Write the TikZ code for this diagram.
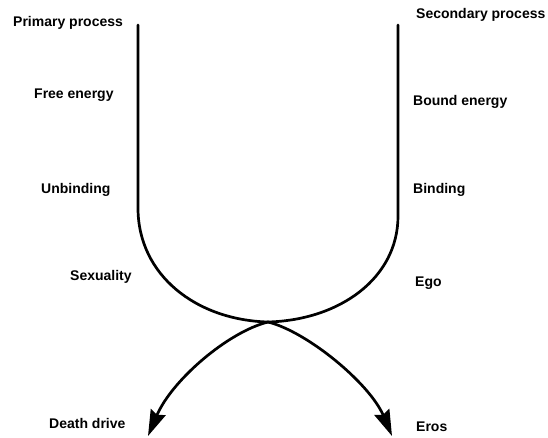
\documentclass[tikz,border=0pt]{standalone}
\usepackage{fontspec}
\setmainfont{Liberation Sans}
\usepackage{tikz}
\usetikzlibrary{arrows.meta}
\tikzset{
  fdterm/.style={font=\fontsize{14}{17}\selectfont\bfseries, inner sep=0pt, anchor=west},
  fdline/.style={line width=2.7pt, line cap=round},
  fdarrow/.style={fdline, -{Stealth[length=26pt,width=16pt,inset=3pt]}}
}

\begin{document}
\begin{tikzpicture}[x=1pt,y=-1pt]
  \useasboundingbox (0,0) rectangle (548,437);
  % primary side
  \node[fdterm] (primary) at (13,23) {Primary process};
  \node[fdterm] (free) at (34,95) {Free energy};
  \node[fdterm] (unbind) at (41,190) {Unbinding};
  \node[fdterm] (sex) at (70,277) {Sexuality};
  \node[fdterm] (deathlbl) at (49,423) {Death drive};
  % secondary side
  \node[fdterm] (secondary) at (416,15) {Secondary process};
  \node[fdterm] (bound) at (413,102) {Bound energy};
  \node[fdterm] (bind) at (413,190) {Binding};
  \node[fdterm] (ego) at (415,283) {Ego};
  \node[fdterm] (eroslbl) at (416,427) {Eros};
  % the two curves meet at (cross)
  \coordinate (ptop) at (138,25);
  \coordinate (pbend) at (138,208);
  \coordinate (stop) at (398,25);
  \coordinate (sbend) at (398,216);
  \coordinate (cross) at (268,322);
  \coordinate (death) at (148,436);
  \coordinate (eros) at (392,436);
  \draw[fdline] (ptop) -- (pbend) .. controls (138,275) and (196,320) .. (cross);
  \draw[fdline] (stop) -- (sbend) .. controls (398,278) and (340,320) .. (cross);
  \draw[fdarrow] (cross) .. controls (228,332) and (172,380) .. (death);
  \draw[fdarrow] (cross) .. controls (308,332) and (370,384) .. (eros);
\end{tikzpicture}
\end{document}
